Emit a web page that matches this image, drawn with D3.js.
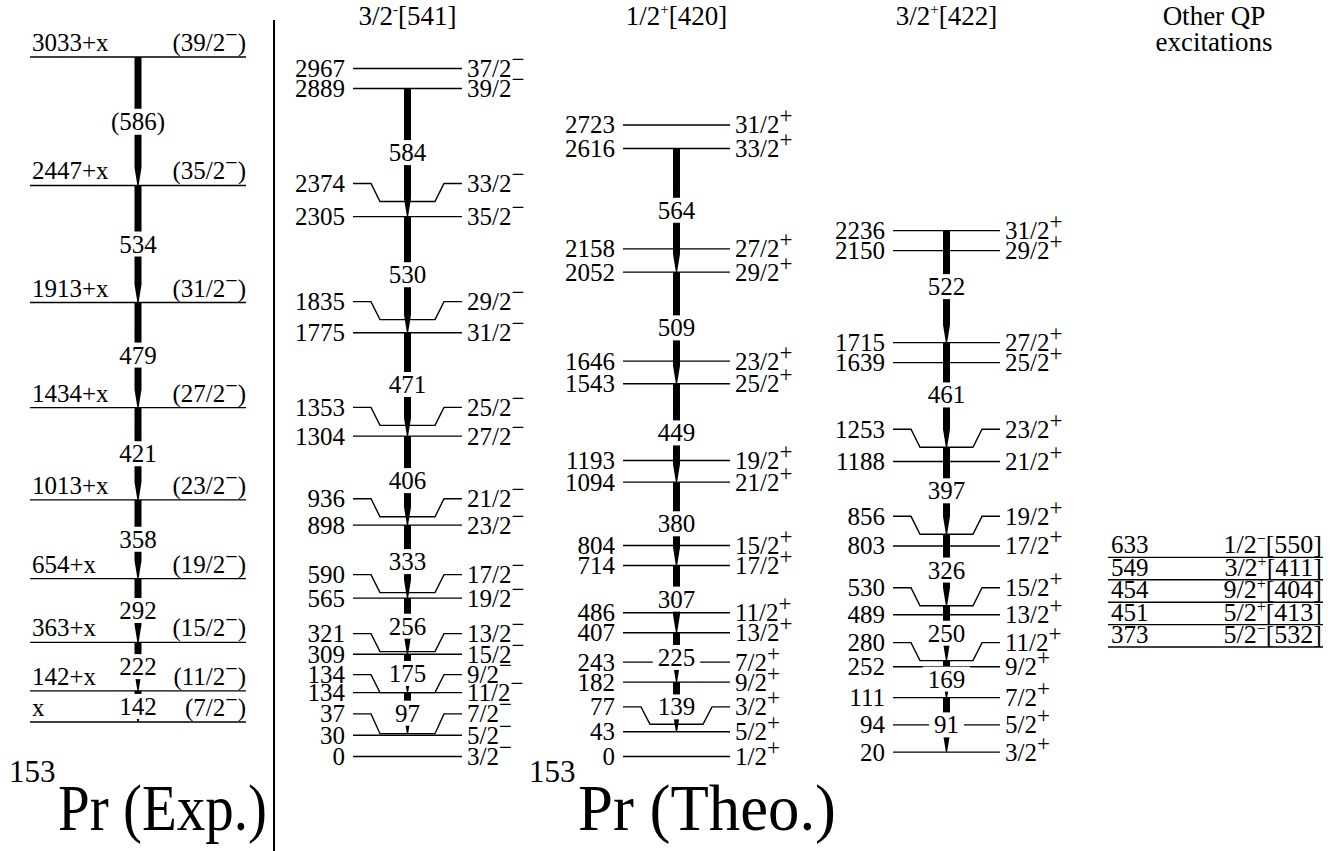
<!DOCTYPE html>
<html>
<head>
<meta charset="utf-8">
<script src="https://cdn.jsdelivr.net/npm/d3@7"></script>
<style>
  body { margin: 0; background: #fff; }
  svg text { font-family: "Liberation Serif", "DejaVu Serif", "Times New Roman", Times, serif; }
</style>
</head>
<body>
<svg id="chart" width="1341" height="851"></svg>
<script>
// ---- data (levels listed top to bottom) ----
// experimental band, 153Pr
const expEnergies = [3033, 2447, 1913, 1434, 1013, 654, 363, 142, 0];
const expSpins = ["39/2", "35/2", "31/2", "27/2", "23/2", "19/2", "15/2", "11/2", "7/2"];
const expGammas = ["(586)", "534", "479", "421", "358", "292", "222", "142"];

// 3/2-[541]
const b541Energies = [2967, 2889, 2374, 2305, 1835, 1775, 1353, 1304, 936, 898, 590, 565, 321, 309, 134, 134, 37, 30, 0];
const b541Spins = ["37/2", "39/2", "33/2", "35/2", "29/2", "31/2", "25/2", "27/2", "21/2", "23/2", "17/2", "19/2", "13/2", "15/2", "9/2", "11/2", "7/2", "5/2", "3/2"];
const b541Cascade = ["39/2", "35/2", "31/2", "27/2", "23/2", "19/2", "15/2", "11/2", "7/2"];
const b541Gammas = ["584", "530", "471", "406", "333", "256", "175", "97"];

// 1/2+[420]
const b420Energies = [2723, 2616, 2158, 2052, 1646, 1543, 1193, 1094, 804, 714, 486, 407, 243, 182, 77, 43, 0];
const b420Spins = ["31/2", "33/2", "27/2", "29/2", "23/2", "25/2", "19/2", "21/2", "15/2", "17/2", "11/2", "13/2", "7/2", "9/2", "3/2", "5/2", "1/2"];
const b420Cascade = ["33/2", "29/2", "25/2", "21/2", "17/2", "13/2", "9/2", "5/2"];
const b420Gammas = ["564", "509", "449", "380", "307", "225", "139"];

// 3/2+[422]
const b422Energies = [2236, 2150, 1715, 1639, 1253, 1188, 856, 803, 530, 489, 280, 252, 111, 94, 20];
const b422Spins = ["31/2", "29/2", "27/2", "25/2", "23/2", "21/2", "19/2", "17/2", "15/2", "13/2", "11/2", "9/2", "7/2", "5/2", "3/2"];
const b422Cascade = ["31/2", "27/2", "23/2", "19/2", "15/2", "11/2", "7/2", "3/2"];
const b422Gammas = ["522", "461", "397", "326", "250", "169", "91"];

// other quasiparticle excitations
const qpEnergies = [633, 549, 454, 451, 373];
const qpOmega = ["1/2", "3/2", "9/2", "5/2", "5/2"];
const qpParity = ["\u2212", "+", "+", "+", "\u2212"];
const qpNilsson = ["[550]", "[411]", "[404]", "[413]", "[532]"];

// ---- layout ----
const LIFT = 18;       // how far a crowded level's label is raised
const GAP = 20;        // minimum spacing between level labels
const LW = 1.4;        // level line width
const AW = 7;          // arrow width
const FS = 25;         // label font size

const svg = d3.select("#chart");
const y = d3.scaleLinear().domain([0, 3033]).range([722, 57]);

const bands = [
  { energies: expEnergies, spins: expSpins, cascade: expSpins, gammas: expGammas,
    lifted: [], parity: "\u2212", exp: true, x0: 30, x1: 246, groundShift: 0 },
  { energies: b541Energies, spins: b541Spins, cascade: b541Cascade, gammas: b541Gammas,
    lifted: ["33/2", "29/2", "25/2", "21/2", "17/2", "13/2", "9/2", "7/2"],
    parity: "\u2212", x0: 353, x1: 462, groundShift: 34.5 },
  { energies: b420Energies, spins: b420Spins, cascade: b420Cascade, gammas: b420Gammas,
    lifted: ["3/2"], parity: "+", x0: 623, x1: 730, groundShift: 34.5 },
  { energies: b422Energies, spins: b422Spins, cascade: b422Cascade, gammas: b422Gammas,
    lifted: ["23/2", "19/2", "15/2", "11/2"], parity: "+", x0: 893, x1: 1000, groundShift: 34.5 }
];

// place levels on the energy scale, then separate crowded ones
function layout(b) {
  const lv = b.energies.map((E, i) => ({ E, J: b.spins[i], lifted: b.lifted.includes(b.spins[i]), shift: 0 }));
  lv.forEach(d => { d.y = y(d.E); d.slot = d.lifted ? d.y - LIFT : d.y; });
  for (let i = 1; i < lv.length; i++) {
    const a = lv[i - 1], c = lv[i];
    const need = a.lifted ? a.y - c.y : a.slot + GAP - c.slot;
    if (need <= 0) continue;
    let room = Infinity;
    if (i > 1) { const p = lv[i - 2]; room = p.lifted ? 0 : a.slot - (p.slot + GAP); }
    if (!a.lifted && a.shift === 0 && room >= need) {
      a.y -= need; a.slot -= need;           // lift the upper level a little
    } else {
      for (let k = i; k < lv.length; k++) { lv[k].y += need; lv[k].slot += need; lv[k].shift += need; }
    }
  }
  // band head sits on the ground line of its panel
  const head = lv[lv.length - 1];
  const ground = y(head.E) + b.groundShift;
  if (ground > head.y) head.y = head.slot = ground;
  // spread the pushed levels evenly above the band head
  let k = lv.length - 2;
  while (k >= 0 && lv[k].shift > 0) k--;
  if (k >= 0 && k < lv.length - 2) {
    const top = lv[k].y, m = lv.length - 2 - k, step = (head.slot - top) / (m + 1);
    for (let j = 1; j <= m; j++) {
      const d = lv[k + j];
      d.slot = top + step * j;
      d.y = d.slot + (d.lifted ? LIFT : 0);
    }
  }
  // inner segment of a raised level keeps its energy distance to the level below
  lv.forEach((d, i) => {
    if (d.lifted && lv[i + 1]) { const p = lv[i + 1]; d.y = p.y - (y(p.E) - y(d.E)); }
  });
  return lv;
}

function addSpin(text, J, sign, supDy, supSize, paren) {
  text.append("tspan").text((paren ? "(" : "") + J);
  text.append("tspan").attr("dy", supDy).attr("font-size", supSize).text(sign);
  if (paren) text.append("tspan").attr("dy", -supDy).text(")");
}

const gLevels = svg.append("g");
const gArrows = svg.append("g");
const gLabels = svg.append("g");

bands.forEach(b => {
  const lv = layout(b);
  const ax = (b.x0 + b.x1) / 2;

  // level lines
  gLevels.selectAll(null).data(lv).enter().append("path")
    .attr("fill", "none").attr("stroke", "#000").attr("stroke-width", LW)
    .attr("d", d => d.lifted
      ? `M${b.x0},${d.slot}H${b.x0 + 18}L${b.x0 + 27},${d.y}H${b.x1 - 27}L${b.x1 - 18},${d.slot}H${b.x1}`
      : `M${b.x0},${d.y}H${b.x1}`);

  // level labels
  lv.forEach(d => {
    if (b.exp) {
      gLevels.append("text").attr("x", b.x0 + 2).attr("y", d.y - 6).attr("font-size", FS)
        .text(d.E === 0 ? "x" : d.E + "+x");
      const t = gLevels.append("text").attr("x", b.x1).attr("y", d.y - 6)
        .attr("font-size", FS).attr("text-anchor", "end");
      addSpin(t, d.J, "\u2212", -9, 22, true);
    } else {
      gLevels.append("text").attr("x", b.x0 - 8).attr("y", d.slot).attr("dy", "0.34em")
        .attr("font-size", FS).attr("text-anchor", "end").text(d.E);
      const t = gLevels.append("text").attr("x", b.x1 + 5).attr("y", d.slot).attr("dy", "0.34em")
        .attr("font-size", FS);
      addSpin(t, d.J, b.parity, -10, 23, false);
    }
  });

  // transitions down the favoured cascade
  const byJ = new Map(lv.map(d => [d.J, d]));
  b.gammas.forEach((g, i) => {
    const y1 = byJ.get(b.cascade[i]).y, y2 = byJ.get(b.cascade[i + 1]).y;
    const h = Math.min(18, (y2 - y1) * 0.45);
    gArrows.append("path").attr("fill", "#000")
      .attr("d", `M${ax - AW / 2},${y1}H${ax + AW / 2}V${y2 - h}L${ax + 0.6},${y2}H${ax - 0.6}L${ax - AW / 2},${y2 - h}Z`);
    const lab = gLabels.append("g");
    const box = lab.append("rect").attr("fill", "#fff");
    const t = lab.append("text").attr("x", ax).attr("y", (y1 + y2) / 2).attr("dy", "0.34em")
      .attr("font-size", FS).attr("text-anchor", "middle").text(g);
    const bb = t.node().getBBox();
    box.attr("x", bb.x - 5).attr("y", bb.y + 1).attr("width", bb.width + 10).attr("height", bb.height - 2);
  });
});

// band headers
function header(x, omega, sign, nils) {
  const t = svg.append("text").attr("x", x).attr("y", 25).attr("font-size", 27).attr("text-anchor", "middle");
  t.append("tspan").text(omega);
  t.append("tspan").attr("dy", -11).attr("font-size", 15).text(sign);
  t.append("tspan").attr("dy", 11).text(nils);
}
header(407.5, "3/2", "-", "[541]");
header(676.5, "1/2", "+", "[420]");
header(946.5, "3/2", "+", "[422]");

svg.append("text").attr("x", 1214).attr("y", 25).attr("font-size", 27).attr("text-anchor", "middle").text("Other QP");
svg.append("text").attr("x", 1214).attr("y", 51).attr("font-size", 27).attr("text-anchor", "middle").text("excitations");

// other QP table
const rowY = d3.scaleBand().domain(d3.range(qpEnergies.length)).range([535, 647]);
qpEnergies.forEach((E, i) => {
  const yb = rowY(i) + rowY.bandwidth();
  svg.append("line").attr("x1", 1108).attr("x2", 1323).attr("y1", yb).attr("y2", yb)
    .attr("stroke", "#000").attr("stroke-width", LW);
  svg.append("text").attr("x", 1111).attr("y", yb - 4).attr("font-size", FS).text(E);
  const t = svg.append("text").attr("x", 1322).attr("y", yb - 4).attr("font-size", 26).attr("text-anchor", "end");
  t.append("tspan").text(qpOmega[i]);
  t.append("tspan").attr("dy", -9).attr("font-size", 16).text(qpParity[i]);
  t.append("tspan").attr("dy", 9).text(qpNilsson[i]);
});

// divider between experiment and theory
svg.append("line").attr("x1", 274).attr("x2", 274).attr("y1", 20).attr("y2", 851)
  .attr("stroke", "#000").attr("stroke-width", 2);

// panel titles (lettering in the original is a little narrow)
function title(x, label, width) {
  svg.append("text").attr("x", x).attr("y", 782).attr("font-size", 31).text("153");
  svg.append("text").attr("x", x + 49).attr("y", 830).attr("font-size", 66)
    .attr("textLength", width).attr("lengthAdjust", "spacingAndGlyphs").text(label);
}
title(9, "Pr (Exp.)", 209);
title(529, "Pr (Theo.)", 258);
</script>
</body>
</html>
